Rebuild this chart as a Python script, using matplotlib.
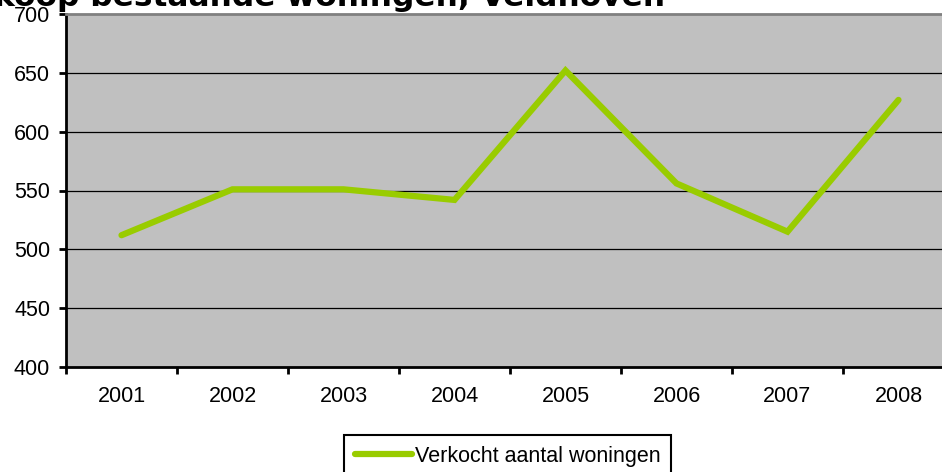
import matplotlib
matplotlib.use("Agg")
import matplotlib.pyplot as plt
from matplotlib.ticker import FixedLocator, NullFormatter

years = ["2001", "2002", "2003", "2004", "2005", "2006", "2007", "2008"]
sold = [512, 551, 551, 542, 652, 556, 515, 627]
yticks = [400, 450, 500, 550, 600, 650, 700]
series_label = "Verkocht aantal woningen"
title = "Verkoop bestaande woningen, Veldhoven"

W, H = 942, 472
fig = plt.figure(figsize=(W / 100, H / 100), dpi=100)
left, right, top, bottom = 66, 954, 14, 367
ax = fig.add_axes([left / W, 1 - bottom / H, (right - left) / W, (bottom - top) / H])
ax.set_facecolor("#C0C0C0")

x = list(range(len(years)))
ax.plot(x, sold, color="#99CC00", lw=4.5, solid_capstyle="round",
        solid_joinstyle="miter", label=series_label, zorder=3)

ax.set_xlim(-0.5, len(years) - 0.5)
ax.set_ylim(400, 700)
ax.set_yticks(yticks)
ax.set_yticklabels([str(v) for v in yticks], family="Liberation Sans", fontsize=15.5)
for v in yticks[1:-1]:
    ax.axhline(v, color="black", lw=0.9, zorder=1)

ax.xaxis.set_major_locator(FixedLocator([i - 0.5 for i in range(len(years) + 1)]))
ax.xaxis.set_major_formatter(NullFormatter())
ax.xaxis.set_minor_locator(FixedLocator(x))
ax.set_xticklabels(years, minor=True, family="Liberation Sans", fontsize=15.5)
ax.tick_params(axis="x", which="major", direction="out", length=5, width=2, color="black")
ax.tick_params(axis="x", which="minor", length=0, pad=14)
ax.tick_params(axis="y", direction="out", length=5, width=2, color="black", pad=6.5)

ax.spines["left"].set_linewidth(2)
ax.spines["bottom"].set_linewidth(2)
ax.spines["top"].set_color("#808080")
ax.spines["top"].set_linewidth(2)
ax.spines["right"].set_visible(False)

fig.text(665 / W, 1 - 6 / H, title, ha="right", va="baseline",
         family="DejaVu Sans", fontweight="bold", fontsize=22.5)

leg = fig.legend(loc="upper left", bbox_to_anchor=(344 / W, 1 - 435 / H),
                 prop={"family": "Liberation Sans", "size": 15.5},
                 frameon=True, fancybox=False, framealpha=1, edgecolor="black",
                 handlelength=2.65, handletextpad=0.15, borderpad=0.5,
                 borderaxespad=0)
leg.get_frame().set_linewidth(1.5)

fig.savefig("out.png", dpi=100)
